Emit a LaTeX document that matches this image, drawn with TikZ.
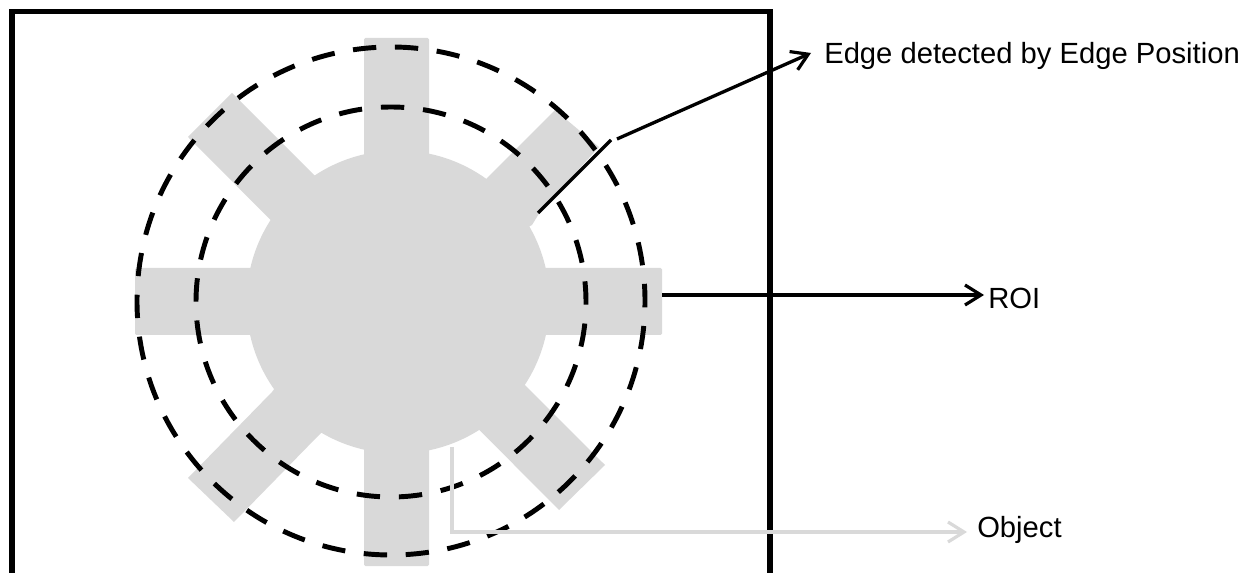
\documentclass[tikz,border=0pt]{standalone}
\usepackage{fontspec}
\setmainfont{Liberation Sans}
\usetikzlibrary{arrows.meta}
\tikzset{
  obj/.style={fill=objgray,draw=none},
  ring/.style={draw=black,line width=3.7pt},
  lead/.style={draw=black,line width=2.5pt},
  arrowed/.style={-{Straight Barb[length=12pt,width=15pt,line width=2.4pt]}},
  lab/.style={font=\fontsize{21.9pt}{26pt}\selectfont,anchor=base west,inner sep=0pt,text=black}
}
\definecolor{objgray}{HTML}{D9D9D9}
\definecolor{leadgray}{HTML}{D9D9D9}
\begin{document}
\begin{tikzpicture}[x=0.75pt,y=-0.75pt]
\useasboundingbox (0,0) rectangle (1246,573);
% object
\fill[obj] (398,302) circle (151.5);
\fill[obj,rounded corners=1pt] (364,38) rectangle (429,566);
\fill[obj,rounded corners=1pt] (135,268) rectangle (662,335);
\fill[obj] (188,137) -- (232,93) -- (605,465) -- (559,510) -- cycle;
\fill[obj] (555,110) -- (599,147) -- (540,212) -- (532,225) -- (400,300) -- (487,178) -- cycle;
\fill[obj] (188,478) -- (272,392) -- (340,300) -- (400,360) -- (318,436) -- (234,522) -- cycle;
% rings
\draw[ring,dash pattern=on 17.5pt off 14pt,dash phase=12.75pt] (391,301) circle (254);
\draw[ring,dash pattern=on 17.5pt off 14.19pt,dash phase=15.5pt] (391,302) circle (195);
% frame
\draw[black,line width=4pt,miter limit=10] (12,573) -- (12,11.5) -- (770,11.5) -- (770,573);
% labels
\node[lab] (edge) at (824,64) {Edge detected by Edge Position};
\node[lab] (roi) at (988,308.5) {ROI};
\node[lab] (objlab) at (977,537) {Object};
% connectors
\coordinate (e1) at (538,213);
\coordinate (e2) at (611,140);
\coordinate (e3) at (617,139);
\coordinate (r1) at (662,295);
\coordinate (o1) at (452,447);
\coordinate (o2) at (452,532);
\draw[lead] (e1) -- (e2);
\draw[lead,arrowed] (e3) -- (811,53) coordinate (e4);
\draw[lead,arrowed] (r1) -- (984,295) coordinate (r2);
\draw[draw=leadgray,line width=2.5pt,arrowed] (o1) -- (o2) -- (967,532) coordinate (o3);
\end{tikzpicture}
\end{document}
